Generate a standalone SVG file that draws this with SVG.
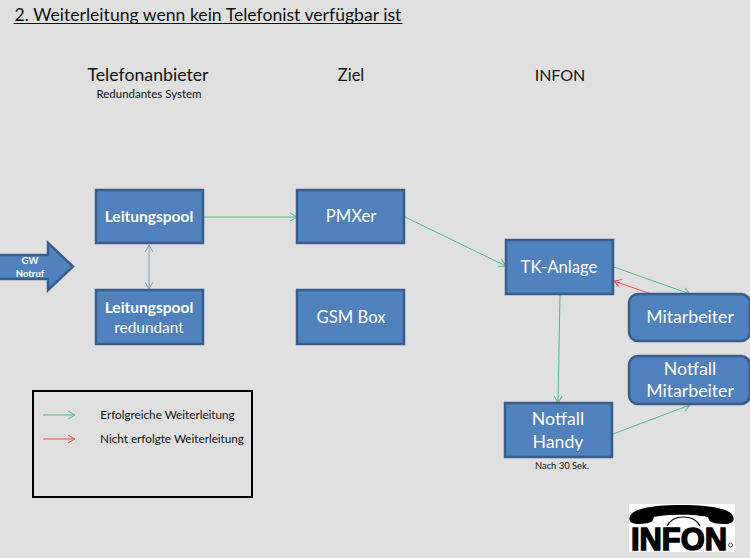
<svg xmlns="http://www.w3.org/2000/svg" width="750" height="558" viewBox="0 0 750 558">
  <style>
    text { font-family: Lato, "Open Sans", sans-serif; text-anchor: middle; }
    .box { fill: #4f81bd; stroke: #385d8a; stroke-width: 2.5; }
    .label { fill: #fff; font-size: 17.7px; }
    .short { font-size: 16.7px; }
    .bold { font-weight: 700; font-size: 15.5px; }
    .head { fill: #111; font-size: 17.7px; }
    .small { fill: #111; font-size: 11.5px; }
    .legend { fill: #111; font-size: 11.7px; }
    .ok { stroke: #4fba7f; stroke-width: 1; fill: none; }
    .fail { stroke: #f04a4a; stroke-width: 1; fill: none; }
    .dual { stroke: #8ba0b8; stroke-width: 1; fill: none; }
  </style>
  <defs>
    <marker id="arrow-ok" markerWidth="10" markerHeight="10" refX="8" refY="5" orient="auto" markerUnits="userSpaceOnUse">
      <path d="M1 1 L8 5 L1 9" fill="none" stroke="#4fba7f" stroke-width="1"/>
    </marker>
    <marker id="arrow-fail" markerWidth="10" markerHeight="10" refX="8" refY="5" orient="auto" markerUnits="userSpaceOnUse">
      <path d="M1 1 L8 5 L1 9" fill="none" stroke="#f04a4a" stroke-width="1"/>
    </marker>
    <marker id="arrow-dual" markerWidth="10" markerHeight="10" refX="8" refY="5" orient="auto-start-reverse" markerUnits="userSpaceOnUse">
      <path d="M1 1 L8 5 L1 9" fill="none" stroke="#8ba0b8" stroke-width="1"/>
    </marker>
  </defs>

  <rect width="750" height="558" fill="#e0e0e0"/>

  <!-- Heading and column titles -->
  <text x="208" y="21" style="font-size:17.6px;fill:#111">2. Weiterleitung wenn kein Telefonist verfügbar ist</text>
  <line x1="13.500" y1="23.500" x2="402.500" y2="23.500" stroke="#111" stroke-width="1"/>
  <text class="head" x="148" y="81">Telefonanbieter</text>
  <text class="small" x="149" y="98">Redundantes System</text>
  <text class="head" x="351" y="81" style="font-size:16.500px">Ziel</text>
  <text class="head" x="560" y="81" style="font-size:16px">INFON</text>

  <g id="connectors">
    <line class="dual" x1="149" y1="245" x2="149" y2="289" marker-start="url(#arrow-dual)" marker-end="url(#arrow-dual)"/>
    <line class="ok" x1="204" y1="217" x2="297" y2="217" marker-end="url(#arrow-ok)"/>
    <line class="ok" x1="405" y1="217" x2="506" y2="266" marker-end="url(#arrow-ok)"/>
    <line class="ok" x1="614" y1="267" x2="690" y2="294" marker-end="url(#arrow-ok)"/>
    <line class="fail" x1="651" y1="294" x2="614" y2="281" marker-end="url(#arrow-fail)"/>
    <line class="ok" x1="560" y1="295" x2="558" y2="403" marker-end="url(#arrow-ok)"/>
    <line class="ok" x1="613" y1="434" x2="690" y2="405" marker-end="url(#arrow-ok)"/>
  </g>

  <g id="gw-notruf">
    <path class="box" d="M-2 255 H48 V243 L73 266.500 L48 290 V279 H-2 Z"/>
    <text x="30" y="264" style="fill:#fff;font-size:9.500px;font-weight:700">GW</text>
    <text x="30" y="277" style="fill:#fff;font-size:9.500px;font-weight:700">Notruf</text>
  </g>
  <g id="leitungspool">
    <rect class="box" x="96" y="190" width="107" height="53"/>
    <text class="label bold" x="149" y="222">Leitungspool</text>
  </g>
  <g id="leitungspool-redundant">
    <rect class="box" x="96" y="290" width="107" height="54"/>
    <text class="label bold" x="149" y="313">Leitungspool</text>
    <text class="label" x="149" y="333" style="font-size:15.400px">redundant</text>
  </g>
  <g id="pmxer">
    <rect class="box" x="297" y="190" width="107" height="53"/>
    <text class="label short" x="351" y="222">PMXer</text>
  </g>
  <g id="gsm-box">
    <rect class="box" x="297" y="290" width="107" height="54"/>
    <text class="label short" x="351" y="323">GSM Box</text>
  </g>
  <g id="tk-anlage">
    <rect class="box" x="506" y="240" width="107" height="54"/>
    <text class="label short" x="559" y="273">TK-Anlage</text>
  </g>
  <g id="mitarbeiter">
    <rect class="box" x="629" y="294" width="121" height="47" rx="9"/>
    <text class="label" x="690" y="323">Mitarbeiter</text>
  </g>
  <g id="notfall-mitarbeiter">
    <rect class="box" x="629" y="356" width="121" height="48" rx="9"/>
    <text class="label" x="690" y="375">Notfall</text>
    <text class="label" x="690" y="397">Mitarbeiter</text>
  </g>
  <g id="notfall-handy">
    <rect class="box" x="505" y="403" width="107" height="54"/>
    <text class="label" x="558" y="425">Notfall</text>
    <text class="label" x="558" y="448">Handy</text>
    <text x="562" y="469" style="fill:#111;font-size:9.400px">Nach 30 Sek.</text>
  </g>

  <g id="legend">
    <rect x="33" y="391" width="219" height="106" fill="none" stroke="#000" stroke-width="2"/>
    <line class="ok" x1="43" y1="415" x2="75" y2="415" marker-end="url(#arrow-ok)"/>
    <line class="fail" x1="43" y1="439" x2="75" y2="439" marker-end="url(#arrow-fail)"/>
    <text class="legend" x="167.500" y="419">Erfolgreiche Weiterleitung</text>
    <text class="legend" x="172" y="443">Nicht erfolgte Weiterleitung</text>
  </g>

  <g id="logo">
    <rect x="629" y="504" width="106" height="48" fill="#fff"/>
    <!-- Handset -->
    <path d="M630 516 C634 507 660 505 681 505 C702 505 729 507 733 516 C735 521 732 524 726 524 C718 524 710 523 709 520 L708 517 C695 514 667 514 654 517 L653 520 C652 523 644 524 637 524 C631 524 628 521 630 516 Z" fill="#000"/>
    <path d="M667 526 C673 514 694 514 700 526" fill="none" stroke="#000" stroke-width="1.200"/>
    <text x="679" y="550" textLength="96" lengthAdjust="spacingAndGlyphs" style="font-family:'Liberation Sans',Arial,sans-serif;font-weight:700;font-size:32px;fill:#000;stroke:#000;stroke-width:1.500">INFON</text>
    <circle cx="730.500" cy="545" r="2" fill="none" stroke="#555" stroke-width="1"/>
  </g>
</svg>
